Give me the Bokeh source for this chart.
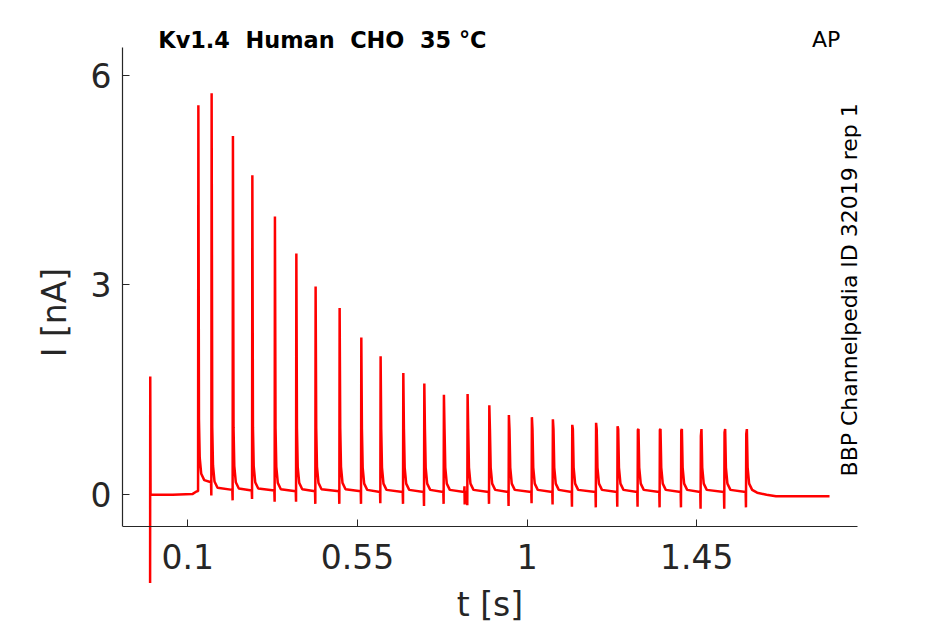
import math
from bokeh.plotting import figure
from bokeh.models import FixedTicker, Label, ColumnDataSource, Range1d
from bokeh.embed import file_html
from bokeh.resources import INLINE

# ---------------- texts ----------------
NBSP = "\u00a0"
TITLE = f"Kv1.4{NBSP} Human{NBSP} CHO{NBSP} 35 °C"
CORNER = "AP"
SIDE = "BBP Channelpedia ID 32019 rep 1"
X_LABEL = "t [s]"
Y_LABEL = "I [nA]"

# ---------------- axes ----------------
X_TICKS = [0.1, 0.55, 1.0, 1.45]
X_TICK_LABELS = ["0.1", "0.55", "1", "1.45"]
Y_TICKS = [0, 3, 6]
Y_TICK_LABELS = ["0", "3", "6"]
X_LIMITS = [-0.0732, 1.875]     # extent of the drawn x axis
Y_LIMITS = [-0.453, 6.40]       # extent of the drawn y axis
X_VIEW = [-0.0732, 2.0884]      # visible area (texts and the onset transient
Y_VIEW = [-1.855, 7.068]        # run outside the axes box)

# ---------------- data ----------------
# capacitive transient at stimulus onset
TRANSIENT_T = [0.0, 0.0004, 0.0012]
TRANSIENT_I = [-1.26, 1.69, 0.0]
# holding current before the first spike
PRE_T = [0.01, 0.06, 0.112, 0.124]
PRE_I = [0.0, 0.0, 0.01, 0.05]
# spikes: times, peak current, dip at onset, level reached after the spike
SPIKE_T = [0.1276, 0.1628, 0.2193, 0.2708, 0.3307, 0.3875, 0.4386, 0.5023,
           0.5598, 0.6110, 0.6712, 0.7269, 0.7789, 0.8417, 0.8993, 0.9512,
           1.0122, 1.0679, 1.1193, 1.1825, 1.2395, 1.2933, 1.3517, 1.4084,
           1.4604, 1.5232, 1.5808]
SPIKE_PEAK = [5.57, 5.74, 5.13, 4.57, 3.98, 3.45, 2.98, 2.67,
              2.25, 1.98, 1.74, 1.59, 1.43, 1.44, 1.28, 1.14,
              1.11, 1.08, 1.00, 1.03, 0.98, 0.93, 0.93, 0.92,
              0.84, 0.89, 0.87]
SPIKE_DIP = [0.05, -0.01, -0.08, -0.06, -0.10, -0.10, -0.13, -0.13,
             -0.13, -0.12, -0.13, -0.16, -0.13, -0.15, -0.13, -0.16,
             -0.12, -0.14, -0.17, -0.18, -0.17, -0.17, -0.18, -0.18,
             -0.20, -0.20, -0.18]
BASE_AFTER = [0.18, 0.07, 0.06, 0.06, 0.05, 0.05, 0.05, 0.05,
              0.04, 0.04, 0.04, 0.04, 0.04, 0.04, 0.04, 0.04,
              0.04, 0.04, 0.04, 0.04, 0.04, 0.04, 0.04, 0.04,
              0.04, 0.04, 0.04]
# shape of the decay after each spike (s after peak, nA above the level)
TAIL_DT = [0.002, 0.004, 0.008, 0.016]
TAIL_ABOVE = [0.90, 0.35, 0.12, 0.03]
# small recording glitch
ARTIFACT_T = [0.8330, 0.8338, 0.8344, 0.8350]
ARTIFACT_I = [0.04, 0.12, -0.14, 0.04]
# after the train
END_T = [1.610, 1.635, 1.660, 1.802]
END_I = [0.03, 0.0, -0.02, -0.02]

# ---------------- assemble the trace ----------------
pts = list(zip(TRANSIENT_T, TRANSIENT_I)) + list(zip(PRE_T, PRE_I))
prev_level = PRE_I[-1]
for ts, pk, dp, lv in zip(SPIKE_T, SPIKE_PEAK, SPIKE_DIP, BASE_AFTER):
    pts.append((ts - 0.0012, prev_level))
    pts.append((ts - 0.0004, dp))
    pts.append((ts + 0.0004, pk))
    for dt, ab in zip(TAIL_DT, TAIL_ABOVE):
        pts.append((ts + dt, lv + ab))
    prev_level = lv
pts += list(zip(ARTIFACT_T, ARTIFACT_I))
pts += list(zip(END_T, END_I))
pts.sort(key=lambda q: q[0])
src = ColumnDataSource(dict(t=[q[0] for q in pts], i=[q[1] for q in pts]))

# ---------------- figure ----------------
FONT = "DejaVu Sans"
AX_COL = "#262626"
RED = "#ff0000"

p = figure(frame_width=815, frame_height=624,
           x_range=Range1d(*X_VIEW), y_range=Range1d(*Y_VIEW),
           output_backend="svg", toolbar_location=None,
           min_border_left=122, min_border_right=0,
           min_border_top=0, min_border_bottom=0,
           background_fill_color="white", border_fill_color="white")
p.outline_line_color = None
p.grid.visible = False

p.line("t", "i", source=src, line_color=RED, line_width=2.5)

for ax, ticks, labels, bnds in ((p.xaxis[0], X_TICKS, X_TICK_LABELS, X_LIMITS),
                                (p.yaxis[0], Y_TICKS, Y_TICK_LABELS, Y_LIMITS)):
    ax.ticker = FixedTicker(ticks=ticks)
    ax.major_label_overrides = {k: v for k, v in zip(ticks, labels)}
    ax.bounds = tuple(bnds)
    ax.minor_tick_line_color = None
    ax.major_tick_in = 7
    ax.major_tick_out = 0
    ax.axis_line_color = AX_COL
    ax.major_tick_line_color = AX_COL
    ax.axis_line_width = 1.2
    ax.major_label_text_font = FONT
    ax.major_label_text_font_size = "33px"
    ax.major_label_text_color = AX_COL
    ax.axis_label_text_font = FONT
    ax.axis_label_text_font_size = "33px"
    ax.axis_label_text_font_style = "normal"
    ax.axis_label_text_color = AX_COL

p.xaxis.fixed_location = Y_LIMITS[0]
p.xaxis.axis_label = X_LABEL
p.yaxis.axis_label = Y_LABEL
p.xaxis.major_label_standoff = 18
p.yaxis.major_label_standoff = 11
p.xaxis.axis_label_standoff = 12
p.yaxis.axis_label_standoff = 14

p.add_layout(Label(x=0.0218, y=6.50, text=TITLE, text_font=FONT,
                   text_font_size="22.4px", text_font_style="bold",
                   text_color="black", text_align="left",
                   text_baseline="alphabetic"))
p.add_layout(Label(x=1.7555, y=6.514, text=CORNER, text_font=FONT,
                   text_font_size="22px", text_color="black",
                   text_align="left", text_baseline="alphabetic"))
p.add_layout(Label(x=X_LIMITS[1] - 0.021, y=0.262, text=SIDE, text_font=FONT,
                   text_font_size="22px", text_color="black",
                   text_align="left", text_baseline="alphabetic",
                   angle=math.pi / 2))

open("out.html", "w").write(file_html(p, INLINE))
